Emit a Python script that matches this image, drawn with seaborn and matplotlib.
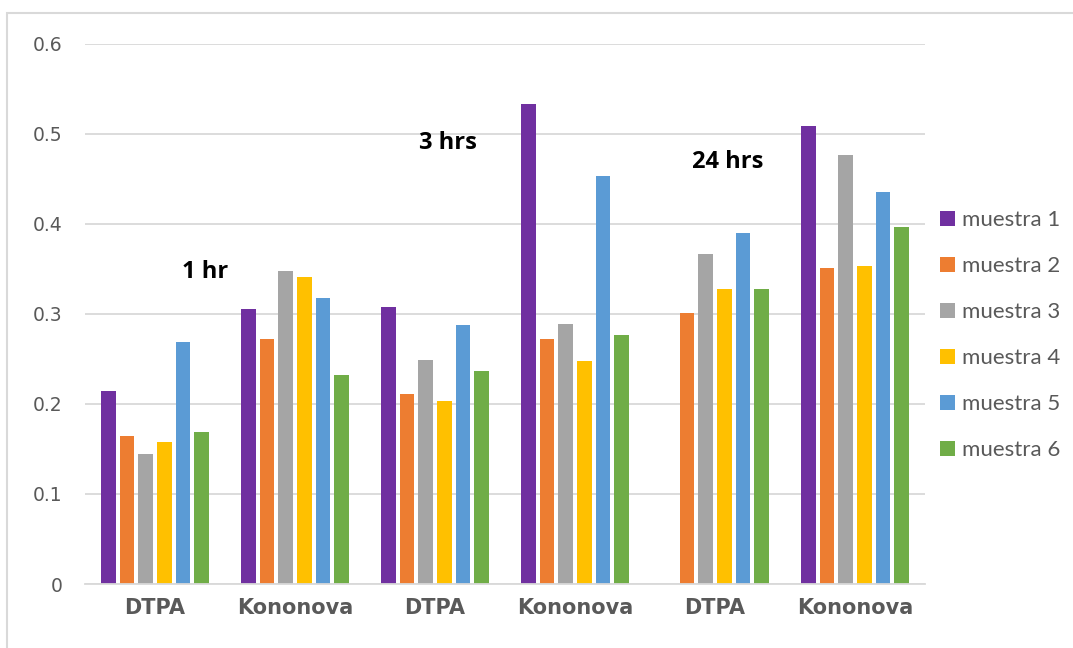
"""Extraction per sample: DTPA vs Kononova at 1, 3 and 24 hrs."""
import numpy as np
import pandas as pd
import matplotlib
matplotlib.use('Agg')
import matplotlib.pyplot as plt
from matplotlib.patches import Rectangle
import seaborn as sns

group_labels = ['DTPA', 'Kononova', 'DTPA', 'Kononova', 'DTPA', 'Kononova']
series_names = ['muestra 1', 'muestra 2', 'muestra 3', 'muestra 4', 'muestra 5', 'muestra 6']

muestra_1 = [0.214, 0.305, 0.308, 0.533, 0.0, 0.508]
muestra_2 = [0.164, 0.272, 0.211, 0.272, 0.301, 0.351]
muestra_3 = [0.144, 0.347, 0.249, 0.289, 0.366, 0.476]
muestra_4 = [0.158, 0.341, 0.203, 0.247, 0.327, 0.353]
muestra_5 = [0.269, 0.317, 0.287, 0.453, 0.390, 0.435]
muestra_6 = [0.169, 0.232, 0.236, 0.276, 0.327, 0.396]

time_labels = ['1 hr', '3 hrs', '24 hrs']
time_label_pos = [(0.36, 0.346), (2.09, 0.490), (4.09, 0.468)]

colors = ['#7030A0', '#ED7D31', '#A5A5A5', '#FFC000', '#5B9BD5', '#70AD47']

values = [muestra_1, muestra_2, muestra_3, muestra_4, muestra_5, muestra_6]
rows = []
for name, vals in zip(series_names, values):
    for i, v in enumerate(vals):
        rows.append({'grupo': i, 'serie': name, 'valor': v})
df = pd.DataFrame(rows)

sns.set_style('white')
plt.rcParams['font.family'] = ['DejaVu Sans']

fig = plt.figure(figsize=(10.73, 6.48), dpi=100)
ax = fig.add_axes([85 / 1073, 1 - 584 / 648, 840 / 1073, 540.5 / 648])

sns.barplot(data=df, x='grupo', y='valor', hue='serie', palette=colors, saturation=1,
            order=list(range(6)), hue_order=series_names, gap=0.2,
            linewidth=0, errorbar=None, ax=ax, legend=True)

ax.set_ylim(0, 0.6)
ax.set_yticks(np.arange(0, 0.61, 0.1))
ax.set_yticklabels(['0', '0.1', '0.2', '0.3', '0.4', '0.5', '0.6'])
ax.set_xlim(-0.5, 5.5)
ax.set_xticks(range(6))
ax.set_xticklabels(group_labels, fontweight='bold')
ax.set_xlabel('')
ax.set_ylabel('')
ax.yaxis.grid(True, color='#d9d9d9', linewidth=1.3)
ax.set_axisbelow(True)
for s in ['left', 'right', 'top']:
    ax.spines[s].set_visible(False)
ax.spines['bottom'].set_color('#d9d9d9')
ax.spines['bottom'].set_linewidth(1.3)
ax.tick_params(axis='y', length=0, pad=16, labelsize=13.5, labelcolor='#595959')
ax.tick_params(axis='x', length=0, pad=10, labelsize=15, labelcolor='#595959')

for lab, (x, y) in zip(time_labels, time_label_pos):
    ax.text(x, y, lab, ha='center', va='center', fontsize=17, fontweight='bold',
            family=['Open Sans', 'DejaVu Sans'], color='black')

handles, labels = ax.get_legend_handles_labels()
ax.legend_.remove()
fig.legend(handles, labels, loc='center left', bbox_to_anchor=(940 / 1073, 1 - 335 / 648),
           frameon=False, prop={'family': 'Lato', 'size': 16}, labelcolor='#595959',
           handlelength=0.66, handleheight=0.66, handletextpad=0.35, labelspacing=1.17,
           borderaxespad=0, borderpad=0)

fig.patches.append(Rectangle((7 / 1073, -0.1), 1.2, 1.1 - 13.5 / 648, transform=fig.transFigure,
                             fill=False, edgecolor='#d9d9d9', linewidth=1.5))

fig.savefig('out.png', dpi=100)
